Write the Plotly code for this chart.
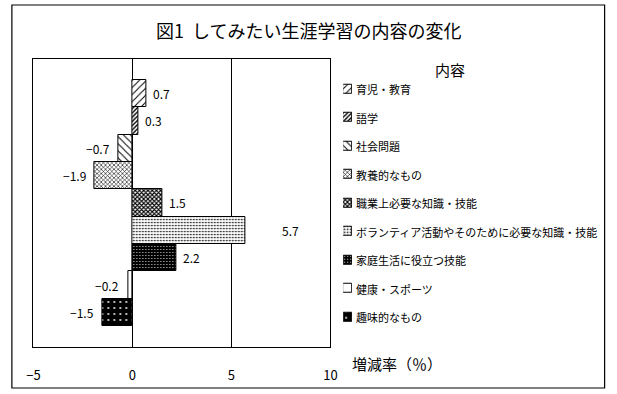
import plotly.graph_objects as go

categories = [
    "育児・教育",
    "語学",
    "社会問題",
    "教養的なもの",
    "職業上必要な知識・技能",
    "ボランティア活動やそのために必要な知識・技能",
    "家庭生活に役立つ技能",
    "健康・スポーツ",
    "趣味的なもの",
]
values = [0.7, 0.3, -0.7, -1.9, 1.5, 5.7, 2.2, -0.2, -1.5]
x_ticks = [-5, 0, 5, 10]
x_tick_labels = ["−5", "0", "5", "10"]

title_text = "図1  してみたい生涯学習の内容の変化"
legend_title = "内容"
axis_title = "増減率（％）"

FONT = "Noto Sans CJK JP"

# style per bar (pattern fills imitating the original hatching)
styles = [
    dict(shape="/", size=5, solidity=0.2, fg="black", bg="white"),
    dict(shape="/", size=3, solidity=0.45, fg="black", bg="white"),
    dict(shape="\\", size=5, solidity=0.2, fg="black", bg="white"),
    dict(shape="x", size=3, solidity=0.35, fg="black", bg="white"),
    dict(shape="x", size=3, solidity=0.6, fg="black", bg="white"),
    dict(shape=".", size=3, solidity=0.25, fg="black", bg="white"),
    dict(shape=".", size=3, solidity=0.12, fg="white", bg="black"),
    dict(shape="", size=3, solidity=0.2, fg="black", bg="white"),
    dict(shape=".", size=6, solidity=0.08, fg="white", bg="black"),
]
extra_label_shift = {5: 30}

W, H = 617, 394
L, R, T, B = 27, 331, 59, 347


def px_x(px):
    return px / W


def px_y(py):
    return 1 - py / H


def marker_for(st):
    return dict(
        color=st["bg"],
        line=dict(color="black", width=1),
        pattern=dict(shape=st["shape"], size=st["size"], solidity=st["solidity"],
                     fgcolor=st["fg"], bgcolor=st["bg"], fillmode="replace"),
    )


fig = go.Figure()
for i, (cat, v) in enumerate(zip(categories, values)):
    st = styles[i]
    fig.add_trace(go.Bar(
        x=[v], y=[i], orientation="h", width=1, name=cat,
        marker=marker_for(st), hoverinfo="skip", showlegend=False,
    ))
    if v >= 0:
        fig.add_annotation(x=v, y=i, xref="x", yref="y", text=f"{v:.1f}",
                           showarrow=False, xanchor="left",
                           xshift=5 + extra_label_shift.get(i, 0),
                           font=dict(family=FONT, size=12, color="black"))
    else:
        fig.add_annotation(x=v, y=i, xref="x", yref="y", text=f"−{abs(v):.1f}",
                           showarrow=False, xanchor="right", xshift=-7,
                           font=dict(family=FONT, size=12, color="black"))

# hand-made legend: small swatches on a second pair of axes, text as annotations
LEG_TOP, LEG_STEP = 89, 28.5
n = len(categories)
sw = 9  # swatch size in px
for i, cat in enumerate(categories):
    st = styles[i]
    fig.add_trace(go.Bar(
        x=[1], y=[i], orientation="h", width=sw / LEG_STEP, xaxis="x2", yaxis="y2",
        marker=marker_for(st), hoverinfo="skip", showlegend=False,
    ))
    fig.add_annotation(x=px_x(355), y=i, xref="paper", yref="y2", text=cat,
                       showarrow=False, xanchor="left", yanchor="middle",
                       font=dict(family=FONT, size=11, color="black"))

fig.add_annotation(x=px_x(453), y=px_y(69), xref="paper", yref="paper", text=legend_title,
                   showarrow=False, xanchor="center", yanchor="middle",
                   font=dict(family=FONT, size=15, color="black"))
fig.add_annotation(x=px_x(309), y=px_y(30), xref="paper", yref="paper", text=title_text,
                   showarrow=False, xanchor="center", yanchor="middle",
                   font=dict(family=FONT, size=18, color="black"))
fig.add_annotation(x=px_x(351), y=px_y(363), xref="paper", yref="paper", text=axis_title,
                   showarrow=False, xanchor="left", yanchor="middle",
                   font=dict(family=FONT, size=15, color="black"))

fig.add_shape(type="rect", xref="paper", yref="paper",
              x0=px_x(5), x1=px_x(611.5), y0=px_y(388), y1=px_y(5),
              line=dict(color="black", width=1.2), layer="below")

leg_y0 = px_y(LEG_TOP + (n - 0.5) * LEG_STEP)
leg_y1 = px_y(LEG_TOP - 0.5 * LEG_STEP)

fig.update_layout(
    width=W, height=H,
    margin=dict(l=0, r=0, t=0, b=0),
    paper_bgcolor="white", plot_bgcolor="white",
    barmode="overlay", bargap=0,
    font=dict(family=FONT, size=12, color="black"),
    showlegend=False,
    xaxis=dict(
        domain=[px_x(L), px_x(R)],
        range=[-5, 10], tickvals=x_ticks, ticktext=x_tick_labels,
        showgrid=True, gridcolor="black", gridwidth=1,
        zeroline=True, zerolinecolor="black", zerolinewidth=1,
        showline=True, linecolor="black", linewidth=1, mirror=True,
        ticks="", ticklabelstandoff=16,
        tickfont=dict(family=FONT, size=13, color="black"),
        fixedrange=True,
    ),
    yaxis=dict(
        domain=[px_y(B), px_y(T)],
        range=[9.265, -1.265], showticklabels=False, showgrid=False, zeroline=False,
        showline=True, linecolor="black", linewidth=1, mirror=True, ticks="",
        fixedrange=True,
    ),
    xaxis2=dict(
        domain=[px_x(344), px_x(344 + sw)], range=[0, 1], anchor="y2",
        visible=False, fixedrange=True,
    ),
    yaxis2=dict(
        domain=[leg_y0, leg_y1], range=[n - 0.5, -0.5], anchor="x2",
        visible=False, fixedrange=True,
    ),
)

fig.write_html(
    "out.html",
    config={"displayModeBar": False, "responsive": False},
    post_script="document.body.style.margin='0';document.body.style.overflow='hidden';",
)
